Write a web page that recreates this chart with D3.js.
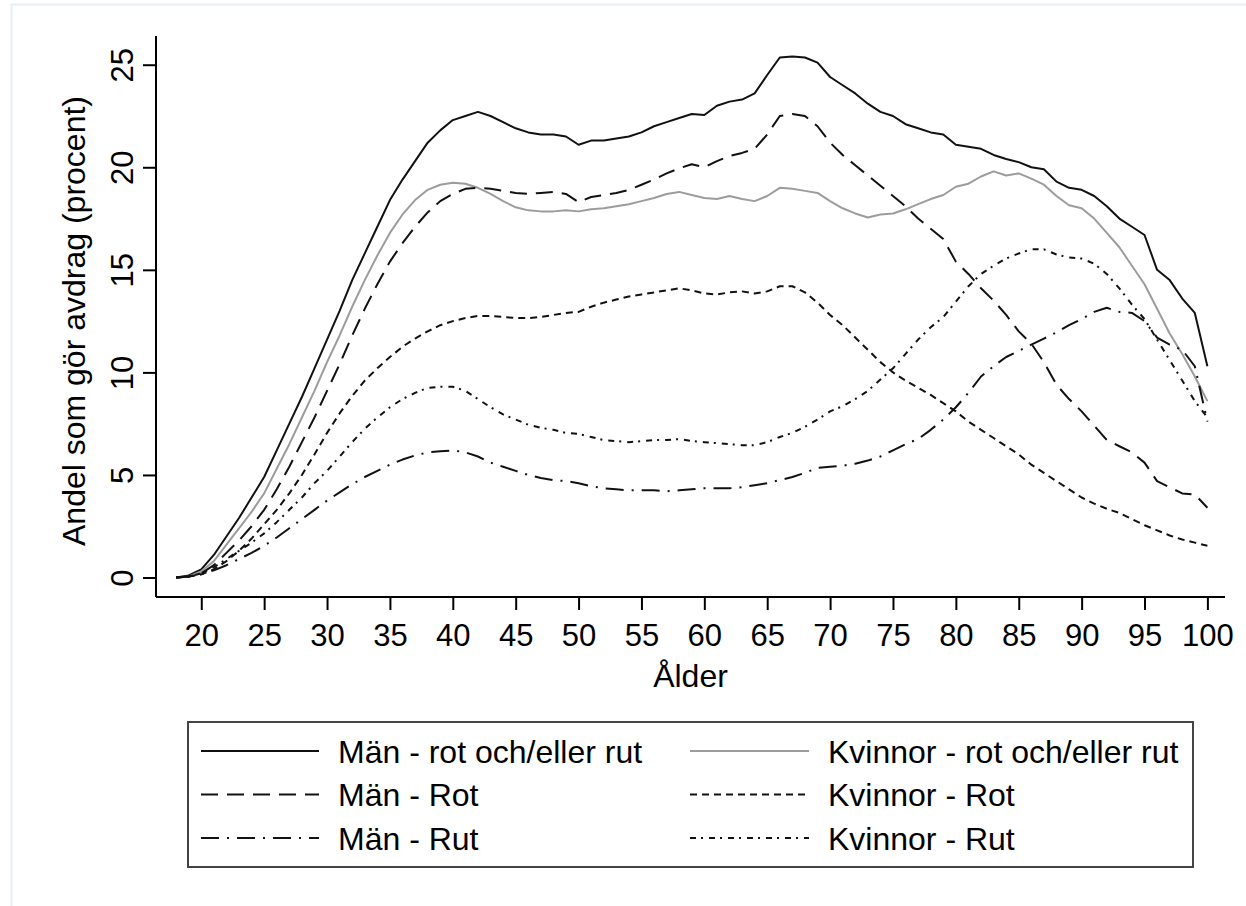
<html>
    <style>
        body {
            margin: 0px;
            background: #ffffff;
        }
        text {
            font-family: Arial, "Liberation Sans", sans-serif;
            fill: #000;
        }
    </style>
<body>
    <svg id='viz'></svg>
</body>

<script src='https://d3js.org/d3.v7.min.js'></script>
<script>
var width = 1246;
var height = 906;

// ages on the x axis
var ages = [18, 19, 20, 21, 22, 23, 24, 25, 26, 27, 28, 29, 30, 31, 32, 33, 34, 35, 36, 37, 38, 39,
    40, 41, 42, 43, 44, 45, 46, 47, 48, 49, 50, 51, 52, 53, 54, 55, 56, 57, 58, 59, 60, 61,
    62, 63, 64, 65, 66, 67, 68, 69, 70, 71, 72, 73, 74, 75, 76, 77, 78, 79, 80, 81, 82, 83,
    84, 85, 86, 87, 88, 89, 90, 91, 92, 93, 94, 95, 96, 97, 98, 99, 100];

// percent of each group making the deduction, one value per age
var manTotal = [0.0, 0.1, 0.4, 1.1, 2.0, 2.9, 3.9, 4.9, 6.2, 7.5, 8.8, 10.2, 11.6, 13.0, 14.5, 15.8, 17.1, 18.4, 19.4, 20.3, 21.2, 21.8,
    22.3, 22.5, 22.7, 22.5, 22.2, 21.9, 21.7, 21.6, 21.6, 21.5, 21.1, 21.3, 21.3, 21.4, 21.5, 21.7, 22.0, 22.2, 22.4, 22.6, 22.55, 23.0,
    23.2, 23.3, 23.6, 24.5, 25.35, 25.4, 25.35, 25.1, 24.4, 24.0, 23.6, 23.1, 22.7, 22.5, 22.1, 21.9, 21.7, 21.6, 21.1, 21.0, 20.9, 20.6,
    20.4, 20.25, 20.0, 19.9, 19.3, 19.0, 18.9, 18.6, 18.1, 17.5, 17.1, 16.7, 15.0, 14.5, 13.6, 12.9, 10.3];

var kvinnorTotal = [0.0, 0.05, 0.3, 0.8, 1.6, 2.4, 3.2, 4.1, 5.3, 6.5, 7.8, 9.1, 10.5, 11.8, 13.2, 14.5, 15.7, 16.8, 17.7, 18.4, 18.9, 19.15,
    19.25, 19.2, 19.0, 18.7, 18.35, 18.05, 17.9, 17.85, 17.85, 17.9, 17.85, 17.95, 18.0, 18.1, 18.2, 18.35, 18.5, 18.7, 18.8, 18.65, 18.5, 18.45,
    18.6, 18.45, 18.35, 18.6, 19.0, 18.95, 18.85, 18.75, 18.35, 18.0, 17.75, 17.55, 17.7, 17.75, 17.95, 18.2, 18.45, 18.65, 19.05, 19.2, 19.55, 19.8,
    19.6, 19.7, 19.45, 19.15, 18.6, 18.15, 18.0, 17.5, 16.8, 16.1, 15.2, 14.3, 13.1, 11.9, 10.9, 9.8, 8.6];

var manRot = [0.0, 0.05, 0.2, 0.6, 1.2, 1.8, 2.5, 3.3, 4.3, 5.4, 6.6, 7.8, 9.1, 10.4, 11.8, 13.1, 14.3, 15.4, 16.3, 17.1, 17.8, 18.35,
    18.7, 18.95, 19.0, 18.95, 18.85, 18.75, 18.7, 18.75, 18.8, 18.7, 18.3, 18.55, 18.65, 18.75, 18.9, 19.15, 19.4, 19.7, 19.95, 20.15, 20.0, 20.3,
    20.55, 20.7, 20.9, 21.6, 22.5, 22.6, 22.5, 22.0, 21.2, 20.6, 20.1, 19.6, 19.1, 18.6, 18.1, 17.5, 17.0, 16.5, 15.4, 14.8, 14.1, 13.5,
    12.8, 12.0, 11.4, 10.5, 9.4, 8.7, 8.1, 7.4, 6.7, 6.4, 6.1, 5.6, 4.7, 4.4, 4.1, 4.05, 3.4];

var kvinnorRot = [0.0, 0.05, 0.15, 0.4, 0.8, 1.3, 1.9, 2.6, 3.3, 4.1, 5.0, 6.0, 7.05, 8.0, 8.85, 9.6, 10.2, 10.75, 11.25, 11.65, 12.0, 12.3,
    12.5, 12.65, 12.75, 12.75, 12.7, 12.65, 12.65, 12.7, 12.8, 12.9, 12.95, 13.2, 13.4, 13.55, 13.7, 13.8, 13.9, 14.0, 14.1, 14.0, 13.85, 13.8,
    13.9, 13.95, 13.85, 13.95, 14.2, 14.2, 13.9, 13.4, 12.8, 12.3, 11.7, 11.1, 10.5, 10.0, 9.6, 9.25, 8.9, 8.5, 8.1, 7.6, 7.2, 6.8,
    6.4, 6.0, 5.5, 5.1, 4.7, 4.3, 3.9, 3.6, 3.35, 3.15, 2.85, 2.55, 2.3, 2.05, 1.85, 1.7, 1.55];

var manRut = [0.0, 0.05, 0.15, 0.35, 0.6, 0.9, 1.2, 1.55, 1.95, 2.4, 2.85, 3.3, 3.75, 4.15, 4.55, 4.9, 5.2, 5.5, 5.75, 5.95, 6.1, 6.15,
    6.2, 6.1, 5.9, 5.6, 5.4, 5.2, 5.0, 4.85, 4.75, 4.7, 4.6, 4.45, 4.35, 4.3, 4.25, 4.25, 4.25, 4.2, 4.25, 4.3, 4.35, 4.35,
    4.35, 4.4, 4.5, 4.6, 4.75, 4.9, 5.1, 5.35, 5.4, 5.45, 5.55, 5.7, 5.9, 6.2, 6.5, 6.75, 7.2, 7.7, 8.3, 9.0, 9.8, 10.3,
    10.75, 11.05, 11.35, 11.65, 11.95, 12.3, 12.6, 12.95, 13.15, 12.95, 12.9, 12.5, 11.7, 11.35, 11.1, 10.3, 7.6];

var kvinnorRut = [0.0, 0.05, 0.2, 0.5, 0.9, 1.3, 1.7, 2.15, 2.7, 3.3, 3.9, 4.6, 5.2, 5.9, 6.6, 7.25, 7.8, 8.3, 8.7, 9.0, 9.25, 9.3,
    9.3, 9.1, 8.7, 8.3, 7.95, 7.7, 7.45, 7.3, 7.2, 7.05, 7.0, 6.85, 6.7, 6.65, 6.6, 6.65, 6.7, 6.7, 6.75, 6.65, 6.6, 6.55,
    6.5, 6.45, 6.45, 6.6, 6.85, 7.05, 7.35, 7.7, 8.1, 8.35, 8.7, 9.1, 9.65, 10.2, 10.9, 11.6, 12.2, 12.7, 13.45, 14.2, 14.8, 15.2,
    15.55, 15.8, 16.0, 16.0, 15.75, 15.6, 15.55, 15.3, 14.8, 14.1, 13.3, 12.6, 11.6, 10.6, 9.6, 8.6, 7.8];

var seriesNames = ["Män - rot och/eller rut", "Kvinnor - rot och/eller rut", "Män - Rot", "Kvinnor - Rot", "Män - Rut", "Kvinnor - Rut"];
var seriesValues = [manTotal, kvinnorTotal, manRot, kvinnorRot, manRut, kvinnorRut];

var xTicks = [20, 25, 30, 35, 40, 45, 50, 55, 60, 65, 70, 75, 80, 85, 90, 95, 100];
var yTicks = [0, 5, 10, 15, 20, 25];

// look of each series (stata-like line patterns)
var styles = [
    {stroke: "#111", dash: null},
    {stroke: "#9c9c9c", dash: null},
    {stroke: "#111", dash: "17,9"},
    {stroke: "#111", dash: "7,5"},
    {stroke: "#111", dash: "18,8,2,8"},
    {stroke: "#111", dash: "6,5,2,6"}
];

var svg = d3.select("#viz").attr("width", width).attr("height", height);

// faint outer graph region frame
svg.append("rect")
    .attr("x", 11.5).attr("y", 4.5)
    .attr("width", 1260).attr("height", 920)
    .attr("fill", "#fff")
    .attr("stroke", "#e8eef1")
    .attr("stroke-width", 2);

var x = d3.scaleLinear().domain([16.4, 101.4]).range([156, 1225]);
var y = d3.scaleLinear().domain([-0.95, 26.4]).range([597, 36]);

var fontSize = 31;
var titleSize = 32;

// y axis
var yAxis = svg.append("g")
    .attr("transform", "translate(156,0)")
    .call(d3.axisLeft(y).tickValues(yTicks).tickSize(13).tickFormat(d3.format("d")));
yAxis.select(".domain").attr("d", "M0," + y.range()[1] + "V" + y.range()[0]);
yAxis.selectAll(".domain, .tick line").attr("stroke", "#000").attr("stroke-width", 2);
yAxis.selectAll(".tick text")
    .attr("x", 0).attr("dy", null)
    .attr("text-anchor", "middle")
    .attr("transform", "translate(-23,0) rotate(-90)")
    .style("font-size", fontSize + "px")
    .style("font-family", "Arial, 'Liberation Sans', sans-serif");

// x axis
var xAxis = svg.append("g")
    .attr("transform", "translate(0,597)")
    .call(d3.axisBottom(x).tickValues(xTicks).tickSize(13).tickFormat(d3.format("d")));
xAxis.select(".domain").attr("d", "M" + x.range()[0] + ",0H" + x.range()[1]);
xAxis.selectAll(".domain, .tick line").attr("stroke", "#000").attr("stroke-width", 2);
xAxis.selectAll(".tick text")
    .attr("y", 49).attr("dy", null)
    .style("font-size", fontSize + "px")
    .style("font-family", "Arial, 'Liberation Sans', sans-serif");

// axis titles
svg.append("text")
    .attr("transform", "translate(85,321) rotate(-90)")
    .attr("text-anchor", "middle")
    .style("font-size", titleSize + "px")
    .text("Andel som gör avdrag (procent)");

svg.append("text")
    .attr("x", (x.range()[0] + x.range()[1]) / 2)
    .attr("y", 687)
    .attr("text-anchor", "middle")
    .style("font-size", titleSize + "px")
    .text("Ålder");

// the lines
var line = d3.line()
    .x(function(d) { return x(d.age); })
    .y(function(d) { return y(d.value); });

var plot = svg.append("g").attr("class", "lines");

seriesValues.forEach(function(vals, i) {
    var pts = ages.map(function(a, j) { return {age: a, value: vals[j]}; });
    plot.append("path")
        .datum(pts)
        .attr("d", line)
        .attr("fill", "none")
        .attr("stroke", styles[i].stroke)
        .attr("stroke-width", 2)
        .attr("stroke-linejoin", "round")
        .attr("stroke-dasharray", styles[i].dash);
});

// legend
var legend = svg.append("g").attr("class", "legend");
legend.append("rect")
    .attr("x", 188).attr("y", 722)
    .attr("width", 1005).attr("height", 145)
    .attr("fill", "#fff")
    .attr("stroke", "#444")
    .attr("stroke-width", 2);

var rowY = [751, 794.5, 838];
var colX = [{x1: 201, x2: 319, tx: 338}, {x1: 690, x2: 809, tx: 828}];

seriesNames.forEach(function(name, i) {
    var col = colX[i % 2];
    var ry = rowY[Math.floor(i / 2)];
    legend.append("line")
        .attr("x1", col.x1).attr("x2", col.x2)
        .attr("y1", ry).attr("y2", ry)
        .attr("stroke", styles[i].stroke)
        .attr("stroke-width", 2)
        .attr("stroke-dasharray", styles[i].dash);
    legend.append("text")
        .attr("x", col.tx)
        .attr("y", ry + 11.5)
        .style("font-size", titleSize + "px")
        .text(name);
});
</script>
</html>
